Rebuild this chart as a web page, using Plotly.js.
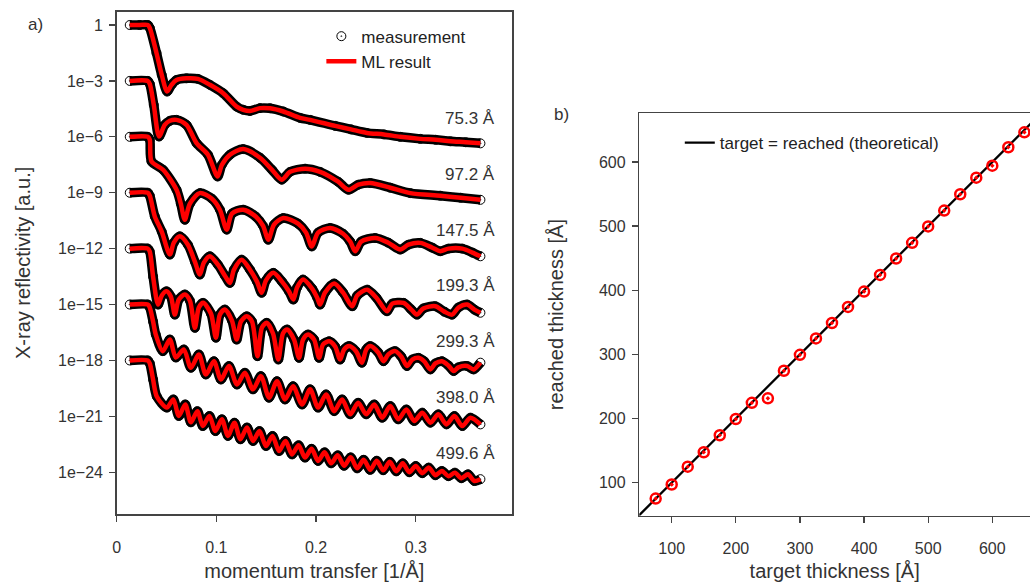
<!DOCTYPE html>
<html>
<head>
<meta charset="utf-8">
<script src="https://cdn.plot.ly/plotly-3.0.1.min.js"></script>
<style>html,body{margin:0;padding:0;background:#fff;}#chart{width:1030px;height:582px;}</style>
</head>
<body>
<div id="chart"></div>
<script>
// ---- Panel a) : X-ray reflectivity curves (log10 of unshifted reflectivity) ----
const thicknessLabels = ['75.3 Å', '97.2 Å', '147.5 Å', '199.3 Å', '299.3 Å', '398.0 Å', '499.6 Å'];
const offsetDecades = [0, -3, -6, -9, -12, -15, -18];

const q_753 = [0.0131,0.0231,0.0312,0.0332,0.0399,0.0452,0.0506,0.055,0.06,0.07,0.0814,0.0935,0.1068,0.1203,0.1269,0.1337,0.1437,0.1538,0.1671,0.1839,0.194,0.2191,0.235,0.251,0.268,0.2844,0.3045,0.32,0.3347,0.35,0.3648];
const logR_753 = [0,0,0,-0.16,-1.5,-2.68,-3.57,-3.21,-2.95,-2.86,-2.89,-3.21,-3.66,-4.38,-4.55,-4.61,-4.46,-4.47,-4.64,-4.98,-5.09,-5.41,-5.60,-5.79,-5.87,-6.0,-6.11,-6.16,-6.24,-6.29,-6.35];

const q_972 = [0.0131,0.0312,0.0332,0.0372,0.0425,0.0482,0.0533,0.06,0.07,0.0801,0.0915,0.1012,0.1055,0.1136,0.1269,0.1437,0.1558,0.1655,0.1739,0.189,0.204,0.2221,0.2325,0.2422,0.2543,0.2744,0.2945,0.3246,0.345,0.3648];
const logR_972 = [0,0,-0.16,-1.29,-2.98,-2.36,-2.14,-2.09,-2.36,-3.34,-3.96,-5.13,-4.5,-3.96,-3.66,-4.12,-4.77,-5.30,-4.88,-4.71,-4.88,-5.41,-5.84,-5.57,-5.48,-5.73,-6.02,-6.16,-6.27,-6.38];

const q_1475 = [0.0131,0.0312,0.0332,0.0349,0.0465,0.06,0.0643,0.0683,0.0734,0.0834,0.0955,0.1035,0.1103,0.1156,0.1269,0.1397,0.1467,0.1521,0.1578,0.1671,0.1819,0.1899,0.1957,0.202,0.2141,0.2271,0.2342,0.2392,0.2452,0.2593,0.2724,0.2844,0.2925,0.3045,0.3166,0.3246,0.3327,0.3467,0.3568,0.3648];
const logR_1475 = [0,0,-0.16,-1.32,-1.77,-2.84,-3.59,-4.45,-3.59,-3.02,-3.32,-3.91,-4.98,-4.12,-3.91,-4.29,-4.77,-5.52,-4.71,-4.36,-4.66,-5.14,-5.88,-5.14,-4.89,-5.20,-5.62,-6.14,-5.62,-5.43,-5.68,-6.05,-5.79,-5.69,-5.95,-6.14,-6.0,-6.0,-6.21,-6.41];

const q_1993 = [0.0131,0.0312,0.0332,0.0382,0.0452,0.0533,0.0573,0.0633,0.0714,0.0784,0.0834,0.0874,0.0935,0.1015,0.1085,0.1136,0.1176,0.1253,0.1337,0.1407,0.1454,0.1497,0.1571,0.1658,0.1729,0.1772,0.1809,0.1869,0.196,0.201,0.204,0.209,0.2181,0.2271,0.2362,0.2412,0.2513,0.2603,0.2711,0.2764,0.2877,0.2955,0.3012,0.3075,0.3196,0.3286,0.3364,0.3427,0.3515,0.3588,0.3648];
const logR_1993 = [0,0,-0.16,-1.27,-2.09,-3.32,-2.68,-2.34,-2.79,-3.70,-4.39,-3.75,-3.41,-3.86,-4.45,-4.84,-4.13,-3.59,-4.13,-4.77,-5.37,-4.71,-4.30,-4.77,-5.30,-5.73,-5.09,-4.66,-5.14,-5.62,-6.0,-5.36,-4.87,-5.36,-6.09,-5.52,-5.20,-5.62,-6.36,-5.95,-5.91,-6.27,-6.54,-6.21,-6.09,-6.38,-6.54,-6.16,-6.0,-6.27,-6.44];

const q_2993 = [0.0131,0.0312,0.0332,0.0365,0.0415,0.0452,0.0499,0.0543,0.0583,0.0623,0.0683,0.0734,0.0784,0.0824,0.0867,0.0945,0.0995,0.1035,0.1085,0.1156,0.1203,0.1246,0.1304,0.1357,0.1412,0.1457,0.1505,0.1568,0.1621,0.1668,0.171,0.1779,0.1829,0.1869,0.192,0.198,0.203,0.207,0.2131,0.2191,0.2241,0.2281,0.2332,0.2402,0.2459,0.2503,0.2543,0.2623,0.2676,0.2724,0.2794,0.2854,0.2912,0.2965,0.3028,0.3085,0.3146,0.3196,0.3263,0.3327,0.338,0.3427,0.3515,0.3581,0.3648];
const logR_2993 = [0,0,-0.16,-1.50,-3.0,-2.52,-2.29,-2.57,-3.54,-2.73,-2.46,-2.79,-4.25,-3.16,-2.91,-3.48,-4.78,-3.54,-3.27,-3.86,-4.88,-3.91,-3.63,-3.91,-5.77,-4.23,-3.98,-4.55,-5.95,-4.55,-4.34,-4.88,-5.86,-4.88,-4.61,-4.88,-5.86,-5.14,-4.97,-5.25,-5.95,-5.41,-5.23,-5.52,-6.12,-5.41,-5.23,-5.57,-6.04,-5.68,-5.50,-5.79,-6.30,-5.95,-5.86,-6.05,-6.48,-6.16,-6.04,-6.27,-6.57,-6.37,-6.30,-6.48,-6.12];

const q_3980 = [0.0131,0.0312,0.0332,0.0365,0.0392,0.0462,0.0533,0.0593,0.0673,0.0744,0.0824,0.0894,0.0975,0.1045,0.1126,0.1206,0.1286,0.1367,0.1447,0.1528,0.1608,0.1688,0.1769,0.1859,0.194,0.202,0.21,0.2181,0.2261,0.2342,0.2422,0.2503,0.2583,0.2663,0.2744,0.2824,0.2905,0.2985,0.3065,0.3146,0.3226,0.3307,0.3387,0.3467,0.3548,0.3648];
const logR_3980 = [0,0,-0.16,-0.91,-1.61,-2.50,-1.88,-2.84,-2.41,-3.39,-2.68,-3.75,-3.04,-4.02,-3.30,-4.29,-3.66,-4.55,-3.84,-5.0,-4.11,-5.09,-4.38,-5.36,-4.55,-5.53,-4.82,-5.72,-5.09,-5.89,-5.27,-5.89,-5.36,-6.07,-5.45,-6.16,-5.63,-6.25,-5.80,-6.34,-5.89,-6.43,-5.98,-6.52,-6.07,-6.43];

const q_4996 = [0.0131,0.0312,0.0332,0.0365,0.0402,0.0503,0.0568,0.0623,0.0688,0.0744,0.0809,0.0864,0.093,0.099,0.1055,0.1116,0.1181,0.1241,0.1307,0.1367,0.1432,0.1497,0.1563,0.1628,0.1693,0.1759,0.1824,0.1889,0.1955,0.202,0.2085,0.2151,0.2216,0.2281,0.2347,0.2412,0.2477,0.2543,0.2608,0.2673,0.2739,0.2804,0.2869,0.2935,0.3,0.3065,0.3131,0.3196,0.3261,0.3327,0.3392,0.3457,0.3523,0.3588,0.3648];
const logR_4996 = [0,0,-0.16,-1.02,-1.93,-2.53,-2.09,-2.98,-2.36,-3.32,-2.72,-3.52,-2.98,-3.79,-3.16,-4.05,-3.34,-4.23,-3.60,-4.32,-3.79,-4.59,-4.05,-4.86,-4.32,-5.04,-4.55,-5.21,-4.74,-5.39,-4.93,-5.52,-5.09,-5.65,-5.20,-5.79,-5.33,-5.87,-5.38,-5.89,-5.44,-5.95,-5.52,-6.0,-5.66,-6.05,-5.75,-6.16,-5.93,-6.21,-6.02,-6.32,-6.11,-6.47,-6.37];

const yTickVals = [1, 1e-3, 1e-6, 1e-9, 1e-12, 1e-15, 1e-18, 1e-21, 1e-24];
const yTickText = ['1', '1e\u22123', '1e\u22126', '1e\u22129', '1e\u221212', '1e\u221215', '1e\u221218', '1e\u221221', '1e\u221224'];
const xTickVals = [0, 0.1, 0.2, 0.3];

// ---- Panel b) : target vs reached thickness ----
const targetThickness = [75,100,125,150,175,200,225,250,275,300,325,350,375,400,425,450,475,500,525,550,575,600,625,650];
const reachedThickness = [75.3,97.2,125,147.5,174,199.3,224.5,231.5,274.5,299.3,325,349,374,398.0,424,449.5,474,499.6,524.2,549.7,575.6,594.2,623,646.2];
const theoryLine = [0, 700];
const thickTicks = [100, 200, 300, 400, 500, 600];

const curveQ = [q_753, q_972, q_1475, q_1993, q_2993, q_3980, q_4996];
const curveLogR = [logR_753, logR_972, logR_1475, logR_1993, logR_2993, logR_3980, logR_4996];

const FONT = 'Liberation Sans, Arial, sans-serif';
const traces = [];
curveQ.forEach((q, i) => {
  const y = curveLogR[i].map(v => Math.pow(10, v + offsetDecades[i]));
  // dense measurement band (the overlapping open circles of the measured data)
  traces.push({
    type: 'scatter', mode: 'lines', x: q, y: y, xaxis: 'x', yaxis: 'y',
    name: 'measurement band', showlegend: false, hoverinfo: 'skip',
    line: {color: '#000', width: 9.5, shape: 'spline', smoothing: 0.8}
  });
  traces.push({
    type: 'scatter', mode: 'markers', x: q, y: y, xaxis: 'x', yaxis: 'y',
    name: 'measurement', showlegend: i === 0, legend: 'legend',
    marker: {symbol: 'circle-open-dot', size: 9, color: '#000', line: {width: 1, color: '#000'}}
  });
  traces.push({
    type: 'scatter', mode: 'lines', x: q, y: y, xaxis: 'x', yaxis: 'y',
    name: 'ML result', showlegend: i === 0, legend: 'legend',
    line: {color: '#ff0000', width: 4.5, shape: 'spline', smoothing: 0.8}
  });
});
traces.push({
  type: 'scatter', mode: 'lines', x: theoryLine, y: theoryLine, xaxis: 'x2', yaxis: 'y2',
  name: 'target = reached (theoretical)', legend: 'legend2', showlegend: true,
  line: {color: '#000', width: 2.3}
});
traces.push({
  type: 'scatter', mode: 'markers', x: targetThickness, y: reachedThickness, xaxis: 'x2', yaxis: 'y2',
  name: 'reached', showlegend: false,
  marker: {symbol: 'circle-open-dot', size: 10, color: '#ff0000', line: {width: 2.5, color: '#ff0000'}}
});

const annotations = thicknessLabels.map((t, i) => ({
  x: 0.381, y: offsetDecades[i] - 5, xref: 'x', yref: 'y', text: t, showarrow: false,
  xanchor: 'right', yanchor: 'middle', font: {size: 17, color: '#333', family: FONT}
}));
annotations.push({x: 35/1030, y: 1 - 25/582, xref: 'paper', yref: 'paper', text: 'a)', showarrow: false,
  xanchor: 'center', yanchor: 'middle', font: {size: 17, color: '#333', family: FONT}});
annotations.push({x: 561/1030, y: 1 - 115/582, xref: 'paper', yref: 'paper', text: 'b)', showarrow: false,
  xanchor: 'center', yanchor: 'middle', font: {size: 17, color: '#333', family: FONT}});

const axCommon = {
  showgrid: false, zeroline: false, showline: true, linecolor: '#444', linewidth: 1.5,
  ticks: 'outside', ticklen: 6, tickwidth: 1.3, tickcolor: '#444',
  tickfont: {size: 16, color: '#333', family: FONT}
};

const layout = {
  width: 1030, height: 582,
  margin: {l: 0, r: 0, t: 0, b: 0},
  paper_bgcolor: '#fff', plot_bgcolor: '#fff',
  font: {family: FONT, size: 16, color: '#333'},
  xaxis: Object.assign({}, axCommon, {
    domain: [0.1133, 0.4971], range: [0, 0.3965], anchor: 'y', mirror: true,
    tickvals: xTickVals, ticktext: xTickVals.map(v => String(v)), ticklabelstandoff: 12,
    title: {text: 'momentum transfer [1/Å]', font: {size: 20, color: '#333'}, standoff: 10}
  }),
  yaxis: Object.assign({}, axCommon, {
    domain: [0.1168, 0.9799], type: 'log', range: [-26.24, 0.714], anchor: 'x', mirror: true,
    tickvals: yTickVals, ticktext: yTickText, ticklabelstandoff: 3,
    title: {text: 'X-ray reflectivity [a.u.]', font: {size: 20, color: '#333'}, standoff: 22}
  }),
  xaxis2: Object.assign({}, axCommon, {
    domain: [0.6207, 1], range: [49.5, 658.8], anchor: 'y2', mirror: true,
    tickvals: thickTicks, ticklabelstandoff: 12,
    title: {text: 'target thickness [Å]', font: {size: 20, color: '#333'}, standoff: 10}
  }),
  yaxis2: Object.assign({}, axCommon, {
    domain: [0.1139, 0.805], range: [48.55, 675.6], anchor: 'x2', mirror: false,
    tickvals: thickTicks, ticklabelstandoff: 3,
    title: {text: 'reached thickness [Å]', font: {size: 20, color: '#333'}, standoff: 30}
  }),
  legend: {x: 0.312, y: 0.968, xanchor: 'left', yanchor: 'top', bgcolor: 'rgba(0,0,0,0)',
    font: {size: 17, color: '#222', family: FONT}, tracegroupgap: 0},
  legend2: {x: 0.66, y: 0.785, xanchor: 'left', yanchor: 'top', bgcolor: 'rgba(0,0,0,0)',
    font: {size: 17, color: '#222', family: FONT}},
  annotations: annotations
};

Plotly.newPlot('chart', traces, layout, {displayModeBar: false, staticPlot: true});
</script>
</body>
</html>
